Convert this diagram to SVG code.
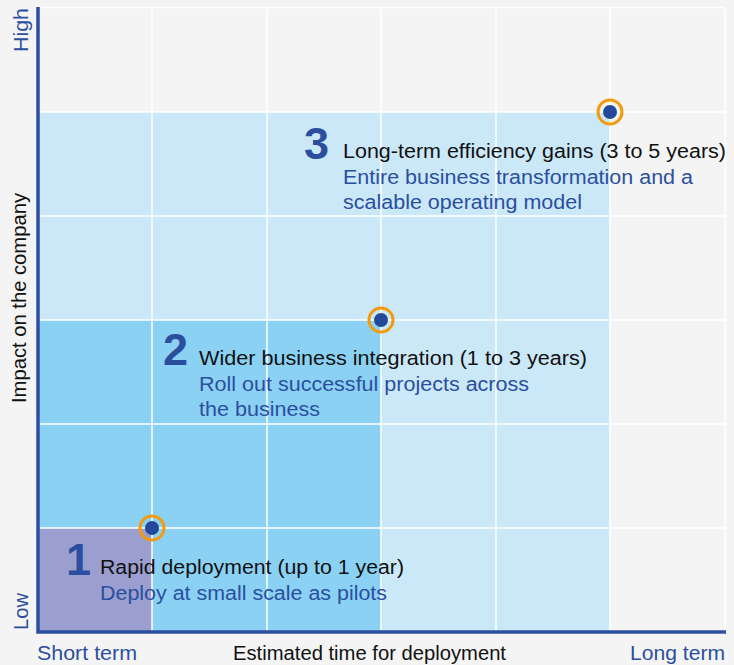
<svg xmlns="http://www.w3.org/2000/svg" width="734" height="665" viewBox="0 0 734 665">
<style>
.t{font-family:"Liberation Sans",Arial,sans-serif;font-size:19.5px;}
.h{fill:#111111;}
.b{fill:#2b4f9e;}
.n{font-family:"Liberation Sans",Arial,sans-serif;font-size:45px;font-weight:bold;fill:#2b4f9e;}
.g{stroke:#ffffff;stroke-width:1.5;fill:none;}
.ring{fill:none;stroke:#f29a10;stroke-width:3;}
.dot{fill:#24499a;}
.ax{stroke:#2b4f9e;stroke-width:3.5;fill:none;}
</style>
<rect width="734" height="665" fill="#f4f4f4"/>
<g id="regions">
<rect id="phase3-area" x="38" y="112" width="572" height="520" fill="#cbe8f9"/>
<rect id="phase2-area" x="38" y="320" width="343" height="312" fill="#8bd1f4"/>
<rect id="phase1-area" x="38" y="528" width="114" height="104" fill="#9b9fd0"/>
</g>
<g id="grid" class="g">
<path d="M38 7.5H725M38 112H725M38 216H725M38 320H725M38 424H725M38 528H725"/>
<path d="M152 7V632M267 7V632M381 7V632M496 7V632M610 7V632M725 7V632"/>
</g>
<g id="axes" class="ax">
<path d="M38 7V632H726"/>
</g>
<g id="axis-labels">
<text class="t b" x="37" y="660" textLength="100" lengthAdjust="spacingAndGlyphs">Short term</text>
<text class="t h" x="233" y="660" textLength="273" lengthAdjust="spacingAndGlyphs">Estimated time for deployment</text>
<text class="t b" x="630" y="660" textLength="95" lengthAdjust="spacingAndGlyphs">Long term</text>
<text class="t b" transform="translate(27.5,52) rotate(-90)" textLength="44" lengthAdjust="spacingAndGlyphs">High</text>
<text class="t h" transform="translate(26,403) rotate(-90)" textLength="210" lengthAdjust="spacingAndGlyphs">Impact on the company</text>
<text class="t b" transform="translate(27.5,630) rotate(-90)" textLength="37" lengthAdjust="spacingAndGlyphs">Low</text>
</g>
<g id="node1">
<circle class="ring" cx="152" cy="528" r="12"/>
<circle class="dot" cx="152" cy="528" r="7"/>
<text class="n" x="66" y="575">1</text>
<text class="t h" x="100" y="574" textLength="304" lengthAdjust="spacingAndGlyphs">Rapid deployment (up to 1 year)</text>
<text class="t b" x="100" y="600" textLength="287" lengthAdjust="spacingAndGlyphs">Deploy at small scale as pilots</text>
</g>
<g id="node2">
<circle class="ring" cx="381" cy="320" r="12"/>
<circle class="dot" cx="381" cy="320" r="7"/>
<text class="n" x="163" y="365">2</text>
<text class="t h" x="199" y="365" textLength="388" lengthAdjust="spacingAndGlyphs">Wider business integration (1 to 3 years)</text>
<text class="t b" x="199" y="391" textLength="330" lengthAdjust="spacingAndGlyphs">Roll out successful projects across</text>
<text class="t b" x="199" y="416" textLength="121" lengthAdjust="spacingAndGlyphs">the business</text>
</g>
<g id="node3">
<circle class="ring" cx="610" cy="112" r="12"/>
<circle class="dot" cx="610" cy="112" r="7"/>
<text class="n" x="304" y="159">3</text>
<text class="t h" x="343" y="158" textLength="383" lengthAdjust="spacingAndGlyphs">Long-term efficiency gains (3 to 5 years)</text>
<text class="t b" x="343" y="184" textLength="350" lengthAdjust="spacingAndGlyphs">Entire business transformation and a</text>
<text class="t b" x="343" y="209" textLength="239" lengthAdjust="spacingAndGlyphs">scalable operating model</text>
</g>
</svg>
